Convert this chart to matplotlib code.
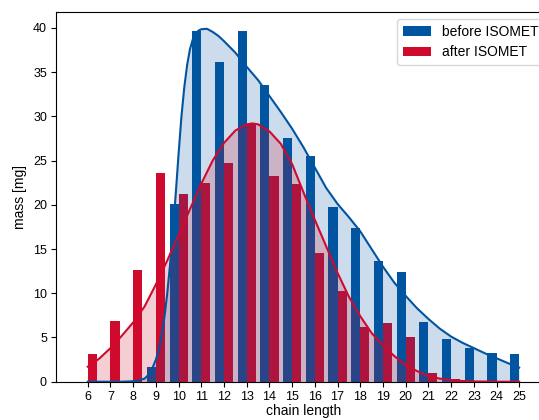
import matplotlib
matplotlib.use("Agg")
import matplotlib.pyplot as plt
import numpy as np

plt.rcParams['font.family'] = ['Liberation Sans', 'DejaVu Sans']

# ---- data ----
chain = [6, 7, 8, 9, 10, 11, 12, 13, 14, 15, 16, 17, 18, 19, 20, 21, 22, 23, 24, 25]
before = [0, 0, 0, 1.7, 20.1, 39.7, 36.1, 39.7, 33.6, 27.5, 25.5, 19.8, 17.4, 13.6,
          12.4, 6.8, 4.8, 3.85, 3.3, 3.1]
after = [3.1, 6.9, 12.6, 23.6, 21.2, 22.5, 24.7, 29.1, 23.3, 22.3, 14.5, 10.2, 6.15, 6.6,
         5.1, 0.95, 0.25, 0, 0, 0]

# fitted curves
before_fit_x = [6, 7, 7.5, 8, 8.25, 8.5, 8.75, 9, 9.125, 9.25, 9.375, 9.5, 9.625, 9.75,
                9.875, 10, 10.125, 10.25, 10.375, 10.5, 10.625, 10.75, 10.875, 11, 11.25,
                11.5, 11.75, 12, 12.5, 13, 13.5, 14, 14.5, 15, 15.5, 16, 16.5, 17, 17.5,
                18, 18.5, 19, 19.5, 20, 20.5, 21, 21.5, 22, 22.5, 23, 23.5, 24, 24.5, 25]
before_fit_y = [0, 0, 0, 0.05, 0.15, 0.35, 0.95, 2.5, 3.6, 5.3, 7.3, 10.0, 13.3, 17.0,
                21.3, 25.8, 30.0, 33.3, 35.8, 37.6, 38.7, 39.3, 39.7, 39.85, 39.9,
                39.55, 39.1, 38.5, 37.2, 35.6, 34.1, 32.3, 30.5, 28.6, 26.5, 24.2, 21.9,
                20.1, 18.6, 17.0, 15.0, 13.0, 11.2, 9.7, 8.3, 7.1, 6.0, 5.1, 4.4, 3.8,
                3.2, 2.65, 2.1, 1.6]
after_fit_x = [6, 6.5, 7, 7.5, 8, 8.5, 9, 9.5, 10, 10.5, 11, 11.5, 12, 12.5, 13, 13.25,
               13.5, 14, 14.5, 15, 15.5, 16, 16.5, 17, 17.5, 18, 18.5, 19, 19.5, 20, 20.5,
               21, 21.5, 22, 22.5, 23, 24, 25]
after_fit_y = [1.7, 2.6, 3.8, 5.2, 6.7, 8.5, 11.0, 13.7, 16.6, 19.5, 22.4, 25.0, 27.0,
               28.4, 29.1, 29.2, 29.1, 28.3, 26.9, 24.6, 21.4, 18.3, 15.3, 12.3, 9.6, 7.4,
               5.5, 4.1, 2.9, 1.9, 1.2, 0.65, 0.35, 0.18, 0.08, 0.03, 0.0, 0.0]

labels = ['before ISOMET', 'after ISOMET']

blue = '#0054A0'
red = '#CF0A2C'

fig = plt.figure(figsize=(5.39, 4.20), dpi=100)
ax = fig.add_axes([56 / 539, 38.3 / 420, 495 / 539, 369.7 / 420])

x = np.array(chain, dtype=float)
ax.bar(x, before, width=-0.4, align='edge', color=blue, label=labels[0], zorder=2)
ax.bar(x, after, width=0.4, align='edge', color=red, label=labels[1], zorder=2)

ax.fill_between(before_fit_x, before_fit_y, 0, color=blue, alpha=0.2, lw=0, zorder=3)
ax.fill_between(after_fit_x, after_fit_y, 0, color=red, alpha=0.2, lw=0, zorder=3)
ax.plot(before_fit_x, before_fit_y, color=blue, lw=1.5, zorder=4)
ax.plot(after_fit_x, after_fit_y, color=red, lw=1.5, zorder=4)

ax.set_xlim(4.6, 26.4)
ax.set_ylim(0, 41.8)
ax.set_xticks(chain)
ax.set_yticks([0, 5, 10, 15, 20, 25, 30, 35, 40])
ax.tick_params(labelsize=9, length=3.5, pad=3)
ax.set_xlabel('chain length', fontsize=10, labelpad=1)
ax.set_ylabel('mass [mg]', fontsize=10)
ax.legend(loc='upper right', fontsize=10)

fig.savefig('out.png', dpi=100)
